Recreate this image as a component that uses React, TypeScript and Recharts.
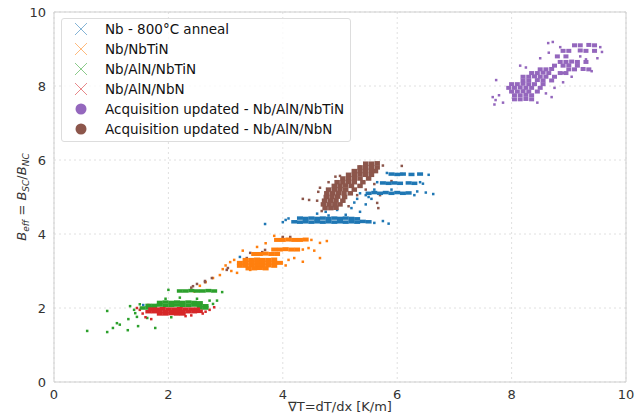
import React from 'react';
import {
  ScatterChart,
  Scatter,
  XAxis,
  YAxis,
  CartesianGrid,
  ReferenceLine,
} from 'recharts';

type Pt = [number, number];

// Nb - 800°C anneal (blue)
const nbDense: Pt[] = [
  [4.2, 4.33], [4.3, 4.32], [4.4, 4.33], [4.5, 4.32], [4.6, 4.33], [4.7, 4.32], [4.8, 4.33],
  [4.9, 4.32], [5.0, 4.33], [5.1, 4.32], [5.2, 4.33], [5.3, 4.32], [5.4, 4.34], [5.5, 4.33],
  [4.3, 4.43], [4.4, 4.42], [4.5, 4.43], [4.6, 4.42], [4.7, 4.43], [4.8, 4.42], [4.9, 4.43],
  [5.0, 4.42], [5.1, 4.43], [5.2, 4.42], [5.3, 4.41],
  [5.5, 5.1], [5.6, 5.12], [5.7, 5.1], [5.8, 5.12], [5.9, 5.1], [6.0, 5.12], [6.1, 5.1], [6.2, 5.11],
  [5.75, 5.38], [5.85, 5.37], [5.95, 5.38], [6.05, 5.37], [6.2, 5.38], [6.3, 5.37],
  [5.9, 5.62], [6.0, 5.61], [6.1, 5.62], [6.25, 5.61], [6.4, 5.62],
];
const nbSparse: Pt[] = [
  [3.69, 4.27], [4.0, 4.32], [4.05, 4.38], [4.1, 4.42], [5.6, 4.3], [5.75, 4.35], [5.85, 4.28],
  [4.6, 4.55], [4.75, 4.6], [4.95, 4.65], [5.1, 4.52], [5.2, 4.7], [5.35, 4.6], [5.45, 4.8],
  [4.9, 4.75], [5.55, 4.95], [5.3, 4.95], [5.9, 5.2], [6.35, 5.15], [6.5, 5.12], [6.63, 5.08],
  [6.45, 5.36], [5.65, 5.4], [6.55, 5.6], [5.82, 5.65], [5.5, 5.0], [5.45, 5.05], [5.25, 4.85],
  [4.8, 4.5], [5.6, 5.2], [6.3, 5.05], [5.35, 5.1], [6.4, 5.4], [3.25, 3.38], [1.56, 2.08],
];

// Nb/NbTiN (orange)
const nbTiNDense: Pt[] = [
  [3.35, 3.3], [3.45, 3.3], [3.55, 3.31], [3.65, 3.3], [3.75, 3.3], [3.85, 3.31],
  [3.25, 3.22], [3.35, 3.22], [3.45, 3.23], [3.55, 3.22], [3.65, 3.22], [3.75, 3.23], [3.85, 3.22], [3.95, 3.22],
  [3.25, 3.14], [3.35, 3.14], [3.45, 3.15], [3.55, 3.14], [3.65, 3.14], [3.75, 3.15], [3.85, 3.14],
  [3.4, 3.07], [3.5, 3.07], [3.6, 3.08], [3.7, 3.07],
  [3.9, 3.84], [4.0, 3.84], [4.1, 3.85], [4.2, 3.84], [4.3, 3.84], [4.4, 3.85],
  [3.85, 3.58], [3.95, 3.58], [4.05, 3.59], [4.15, 3.58], [4.25, 3.58],
  [3.5, 3.46], [3.6, 3.46], [3.7, 3.47], [3.8, 3.46], [3.9, 3.46],
];
const nbTiNSparse: Pt[] = [
  [3.08, 3.24], [2.9, 2.89], [2.78, 2.81], [3.2, 2.95], [3.43, 3.03], [4.65, 3.76], [4.65, 3.35],
  [4.77, 3.81], [4.45, 3.62], [4.1, 3.3], [4.2, 3.35], [4.35, 3.25], [4.05, 3.15], [3.15, 3.3],
  [3.0, 3.15], [3.3, 3.55], [3.55, 3.65], [3.7, 3.75], [4.55, 3.55], [2.55, 2.6], [2.45, 2.45],
  [2.65, 2.7], [3.85, 3.95], [4.0, 3.9], [4.5, 3.84], [4.35, 3.58], [3.1, 3.0], [2.95, 3.05],
];

// Nb/AlN/NbTiN (green)
const alnNbTiNDense: Pt[] = [
  [1.85, 2.15], [1.95, 2.16], [2.05, 2.15], [2.15, 2.16], [2.25, 2.15], [2.35, 2.16], [2.45, 2.15], [2.55, 2.14],
  [1.65, 2.07], [1.75, 2.07], [1.85, 2.08], [1.95, 2.07], [2.05, 2.07], [2.15, 2.08], [2.25, 2.07],
  [2.35, 2.07], [2.45, 2.08], [2.55, 2.07], [2.65, 2.06],
  [1.55, 2.0], [1.65, 2.0], [1.75, 2.01], [2.55, 2.0], [2.65, 2.0],
  [2.2, 2.46], [2.3, 2.46], [2.4, 2.47], [2.5, 2.46], [2.6, 2.46], [2.7, 2.47], [2.8, 2.46],
];
const alnNbTiNSparse: Pt[] = [
  [0.58, 1.38], [0.93, 1.35], [1.03, 1.46], [1.1, 1.59], [1.15, 1.55], [1.29, 1.4], [1.47, 1.51],
  [1.77, 1.46], [1.33, 2.05], [0.93, 1.92], [1.42, 1.86], [1.45, 1.76], [1.63, 1.73], [2.78, 2.11],
  [2.94, 2.43], [2.72, 2.2], [2.0, 2.49], [1.5, 2.1], [1.95, 2.25], [2.2, 2.28], [2.5, 2.25],
  [1.4, 1.95], [2.85, 2.2], [2.05, 1.75], [1.3, 1.7],
];

// Nb/AlN/NbN (red)
const alnNbNDense: Pt[] = [
  [1.7, 1.97], [1.8, 1.97], [1.9, 1.98], [2.0, 1.97], [2.1, 1.97], [2.2, 1.98], [2.3, 1.97], [2.4, 1.97], [2.5, 1.97],
  [1.65, 1.9], [1.75, 1.9], [1.85, 1.91], [1.95, 1.9], [2.05, 1.9], [2.15, 1.91], [2.25, 1.9], [2.35, 1.9],
  [2.45, 1.9], [2.55, 1.91],
  [1.85, 1.84], [1.95, 1.84], [2.05, 1.85], [2.15, 1.84], [2.25, 1.84],
];
const alnNbNSparse: Pt[] = [
  [1.5, 1.95], [1.55, 1.85], [1.6, 1.75], [2.65, 1.9], [2.72, 1.95], [2.6, 1.85], [1.45, 2.0],
  [2.3, 1.78], [1.7, 1.7], [2.8, 2.02], [1.65, 2.08], [2.4, 1.8],
];

// Acquisition updated - Nb/AlN/NbTiN (purple)
const acqNbTiNDense: Pt[] = [
  [9.1, 9.1], [9.2, 9.1], [9.35, 9.11], [9.45, 9.1],
  [8.9, 8.95], [9.0, 8.95], [9.2, 8.96], [9.3, 8.95], [9.45, 8.95],
  [8.8, 8.8], [8.95, 8.8],
  [8.85, 8.65], [8.95, 8.65], [9.05, 8.66], [9.15, 8.65], [9.3, 8.65],
  [8.75, 8.55], [8.9, 8.55], [9.0, 8.56], [9.15, 8.55],
  [8.5, 8.45], [8.6, 8.45], [8.7, 8.46], [9.0, 8.45], [9.1, 8.45], [9.25, 8.46], [9.35, 8.45],
  [8.35, 8.35], [8.45, 8.35], [8.55, 8.36], [8.65, 8.35], [8.85, 8.35], [8.95, 8.35],
  [8.2, 8.25], [8.3, 8.25], [8.4, 8.26], [8.5, 8.25], [8.6, 8.25], [8.75, 8.25],
  [8.2, 8.15], [8.3, 8.15], [8.45, 8.16], [8.55, 8.15], [8.7, 8.15],
  [8.0, 8.05], [8.1, 8.05], [8.2, 8.06], [8.3, 8.05], [8.4, 8.05], [8.55, 8.05],
  [7.95, 7.95], [8.05, 7.95], [8.15, 7.96], [8.25, 7.95], [8.35, 7.95], [8.5, 7.95],
  [8.0, 7.85], [8.1, 7.85], [8.2, 7.86], [8.3, 7.85], [8.45, 7.85],
  [8.05, 7.75], [8.15, 7.75], [8.25, 7.76], [8.35, 7.75],
  [8.05, 7.64], [8.15, 7.64], [8.25, 7.65], [8.35, 7.64],
];
const acqNbTiNSparse: Pt[] = [
  [7.67, 7.7], [7.72, 7.62], [7.78, 7.75], [7.85, 7.55], [7.7, 7.5], [7.73, 8.16], [8.64, 9.16],
  [8.72, 9.19], [9.58, 8.92], [9.5, 8.75], [9.3, 8.72], [8.6, 7.8], [8.75, 7.95], [8.45, 7.55],
  [8.9, 8.1], [8.5, 8.75], [8.65, 8.9], [8.85, 9.05], [9.55, 9.05], [9.4, 8.4], [8.9, 8.35],
  [8.15, 8.55], [8.25, 8.5], [9.05, 8.25], [8.7, 7.7], [9.2, 8.8],
];

// Acquisition updated - Nb/AlN/NbN (brown)
const acqNbNDense: Pt[] = [
  [5.45, 5.9], [5.55, 5.9], [5.65, 5.91],
  [5.35, 5.8], [5.45, 5.8], [5.55, 5.81], [5.65, 5.8],
  [5.25, 5.7], [5.35, 5.7], [5.45, 5.71], [5.55, 5.7], [5.62, 5.7],
  [5.15, 5.6], [5.25, 5.6], [5.35, 5.61], [5.45, 5.6], [5.55, 5.6],
  [5.05, 5.5], [5.15, 5.5], [5.25, 5.51], [5.35, 5.5], [5.5, 5.5],
  [4.95, 5.4], [5.05, 5.4], [5.15, 5.41], [5.25, 5.4], [5.4, 5.4],
  [4.9, 5.3], [5.0, 5.3], [5.1, 5.31], [5.2, 5.3], [5.35, 5.3],
  [4.8, 5.2], [4.9, 5.2], [5.0, 5.21], [5.1, 5.2], [5.25, 5.2],
  [4.77, 5.1], [4.87, 5.1], [4.97, 5.11], [5.07, 5.1], [5.18, 5.1],
  [4.76, 5.0], [4.86, 5.0], [4.96, 5.01], [5.08, 5.0],
  [4.73, 4.9], [4.83, 4.9], [4.93, 4.91], [5.05, 4.9],
  [4.71, 4.8], [4.81, 4.8], [4.91, 4.81], [5.0, 4.8],
  [4.74, 4.7], [4.84, 4.7], [4.93, 4.71],
];
const acqNbNSparse: Pt[] = [
  [4.35, 4.95], [4.46, 4.92], [4.62, 5.14], [5.0, 5.57], [4.92, 5.55], [5.67, 4.7], [5.65, 4.84],
  [5.9, 5.43], [6.08, 5.84], [6.08, 5.62], [4.6, 4.9], [4.65, 5.25], [4.8, 5.4], [5.15, 4.75],
  [5.3, 5.05], [5.45, 5.2], [5.6, 5.35], [5.7, 5.05], [5.35, 5.82], [5.75, 5.85], [4.68, 4.62],
  [4.0, 3.92], [4.13, 3.92], [4.13, 3.84], [3.69, 3.57], [3.64, 3.51], [3.43, 3.49], [3.37, 3.35],
  [3.34, 3.3], [3.04, 3.08], [3.02, 3.03], [2.76, 2.81], [2.64, 2.7],
  [2.43, 2.59], [2.5, 2.65], [2.64, 2.73], [2.4, 2.55],
];

const xTicks = [0, 2, 4, 6, 8, 10];
const yTicks = [0, 2, 4, 6, 8, 10];

const legendItems = [
  { name: 'Nb - 800°C anneal', color: '#1f77b4', kind: 'x' },
  { name: 'Nb/NbTiN', color: '#ff7f0e', kind: 'x' },
  { name: 'Nb/AlN/NbTiN', color: '#2ca02c', kind: 'x' },
  { name: 'Nb/AlN/NbN', color: '#d62728', kind: 'x' },
  { name: 'Acquisition updated - Nb/AlN/NbTiN', color: '#9467bd', kind: 'o' },
  { name: 'Acquisition updated - Nb/AlN/NbN', color: '#8c564b', kind: 'o' },
];

const toObj = (pts: Pt[]) => pts.map(([x, y]) => ({ x, y }));

const box = (w: number, h: number) => (props: any) => {
  const { cx, cy, fill } = props;
  if (cx == null || cy == null) return <g />;
  return <rect x={cx - w / 2} y={cy - h / 2} width={w} height={h} fill={fill} />;
};

const FONT = '"DejaVu Sans", sans-serif';

const YLabel = (props: any) => {
  const vb = props.viewBox || {};
  const cx = 26;
  const cy = (vb.y ?? 12) + (vb.height ?? 370) / 2;
  return (
    <text
      x={cx}
      y={cy}
      transform={`rotate(-90 ${cx} ${cy})`}
      textAnchor="middle"
      fontFamily={FONT}
      fontSize={13}
      fill="#333"
    >
      <tspan fontStyle="italic">B</tspan>
      <tspan fontStyle="italic" fontSize={9} dy={3}>eff</tspan>
      <tspan dy={-3}> = </tspan>
      <tspan fontStyle="italic">B</tspan>
      <tspan fontStyle="italic" fontSize={9} dy={3}>SC</tspan>
      <tspan dy={-3}>/</tspan>
      <tspan fontStyle="italic">B</tspan>
      <tspan fontStyle="italic" fontSize={9} dy={3}>NC</tspan>
    </text>
  );
};

const XLabel = () => (
  <text x={340} y={411} textAnchor="middle" fontFamily={FONT} fontSize={13} fill="#333">
    ∇T=dT/dx [K/m]
  </text>
);

const series = [
  { dense: nbDense, sparse: nbSparse, color: '#1f77b4', dw: 6, dh: 3.5 },
  { dense: nbTiNDense, sparse: nbTiNSparse, color: '#ff7f0e', dw: 6, dh: 4 },
  { dense: alnNbTiNDense, sparse: alnNbTiNSparse, color: '#2ca02c', dw: 6, dh: 3.5 },
  { dense: alnNbNDense, sparse: alnNbNSparse, color: '#d62728', dw: 6, dh: 3.5 },
  { dense: acqNbTiNDense, sparse: acqNbTiNSparse, color: '#9467bd', dw: 5, dh: 4 },
  { dense: acqNbNDense, sparse: acqNbNSparse, color: '#8c564b', dw: 5.5, dh: 4.5 },
];

export default function App() {
  return (
    <div style={{ position: 'absolute', left: 0, top: 0, width: 641, height: 418, background: '#fff' }}>
      <ScatterChart width={641} height={418} margin={{ top: 12, right: 15, bottom: 0, left: 0 }}>
        <CartesianGrid stroke="#e0e0e0" strokeDasharray="2 3" />
        <XAxis
          type="number"
          dataKey="x"
          domain={[0, 10]}
          ticks={xTicks}
          height={36}
          stroke="#cfcfcf"
          tickLine={false}
          tick={{ fill: '#333', fontSize: 13, fontFamily: FONT }}
          label={<XLabel />}
        />
        <YAxis
          type="number"
          dataKey="y"
          domain={[0, 10]}
          ticks={yTicks}
          width={54}
          stroke="#cfcfcf"
          tickLine={false}
          tick={{ fill: '#333', fontSize: 13, fontFamily: FONT }}
          label={<YLabel />}
        />
        <ReferenceLine y={10} stroke="#cfcfcf" />
        <ReferenceLine x={10} stroke="#cfcfcf" />
        {series.map((s, i) => (
          <Scatter
            key={'s' + i}
            data={toObj(s.sparse)}
            fill={s.color}
            shape={box(2.5, 2.5)}
            isAnimationActive={false}
          />
        ))}
        {series.map((s, i) => (
          <Scatter
            key={'d' + i}
            data={toObj(s.dense)}
            fill={s.color}
            shape={box(s.dw, s.dh)}
            isAnimationActive={false}
          />
        ))}
      </ScatterChart>
      <div
        style={{
          position: 'absolute',
          left: 61,
          top: 18,
          width: 290,
          height: 124,
          border: '1px solid #dddddd',
          borderRadius: 3,
          background: 'rgba(255,255,255,0.8)',
          boxSizing: 'border-box',
          fontFamily: FONT,
          fontSize: 13.5,
          color: '#111',
        }}
      >
        {legendItems.map((it, i) => (
          <div
            key={it.name}
            style={{ position: 'absolute', left: 0, top: i * 20, height: 20, display: 'flex', alignItems: 'center', whiteSpace: 'nowrap' }}
          >
            <svg width={43} height={20} style={{ display: 'block' }}>
              {it.kind === 'x' ? (
                <g stroke={it.color} strokeOpacity={0.55} strokeWidth={1}>
                  <line x1={13} y1={4} x2={25} y2={16} />
                  <line x1={13} y1={16} x2={25} y2={4} />
                </g>
              ) : (
                <circle cx={19} cy={10} r={5.5} fill={it.color} />
              )}
            </svg>
            <span>{it.name}</span>
          </div>
        ))}
      </div>
    </div>
  );
}
